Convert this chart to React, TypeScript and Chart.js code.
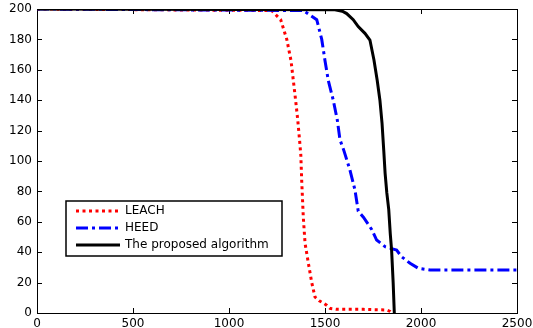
import { useEffect, useRef } from "react";
import { Chart, registerables } from "chart.js";

Chart.register(...registerables);

const xTickValues = [0, 500, 1000, 1500, 2000, 2500];
const yTickValues = [0, 20, 40, 60, 80, 100, 120, 140, 160, 180, 200];
const seriesLabels = ["LEACH", "HEED", "The proposed algorithm"];

const leachX = [0, 1222, 1269, 1301, 1323, 1335, 1347, 1358, 1368, 1374, 1379, 1387, 1396, 1413, 1431, 1448, 1470, 1491, 1510, 1526, 1560, 1700, 1820, 1840, 1850];
const leachY = [200, 199, 193, 180, 166, 153, 140, 127, 113, 104, 86, 63, 46, 33, 20, 10.5, 8, 6.6, 5, 3, 2.4, 2.4, 2, 1, 0];

const heedX = [0, 1387, 1422, 1457, 1483, 1500, 1517, 1543, 1564, 1578, 1598, 1630, 1656, 1673, 1700, 1743, 1769, 1813, 1873, 1899, 1943, 1986, 2047, 2500];
const heedY = [200, 199, 196, 193, 180, 166, 153, 140, 127, 114, 107, 94, 81, 67, 63, 55, 48, 43.6, 41.4, 37, 32.7, 29.4, 28.3, 28.3];

const proposedX = [0, 1552, 1590, 1613, 1647, 1673, 1708, 1734, 1755, 1772, 1786, 1797, 1806, 1813, 1822, 1832, 1840, 1847, 1855, 1861];
const proposedY = [200, 199.5, 198.5, 197, 193, 188.4, 184, 179.6, 166.4, 153, 140, 125, 107, 92, 79, 68, 52, 41, 20, 0];

const FONT = "'DejaVu Sans', sans-serif";

const framePlugin = {
  id: "matlabFrame",
  beforeDatasetsDraw(chart: any) {
    const { ctx, chartArea } = chart;
    const { left, right, top, bottom } = chartArea;
    const xs = chart.scales.x;
    const ys = chart.scales.y;
    ctx.save();
    ctx.strokeStyle = "#000";
    ctx.lineWidth = 1;
    ctx.strokeRect(Math.round(left) + 0.5, Math.round(top) + 0.5, Math.round(right - left), Math.round(bottom - top));
    const tl = 5;
    ctx.beginPath();
    xs.ticks.forEach((t: any) => {
      const px = Math.round(xs.getPixelForValue(t.value)) + 0.5;
      ctx.moveTo(px, bottom);
      ctx.lineTo(px, bottom - tl);
      ctx.moveTo(px, top);
      ctx.lineTo(px, top + tl);
    });
    ys.ticks.forEach((t: any) => {
      const py = Math.round(ys.getPixelForValue(t.value)) + 0.5;
      ctx.moveTo(left, py);
      ctx.lineTo(left + tl, py);
      ctx.moveTo(right, py);
      ctx.lineTo(right - tl, py);
    });
    ctx.stroke();
    ctx.restore();
  },
};

const legendPlugin = {
  id: "matlabLegend",
  afterDatasetsDraw(chart: any) {
    const { ctx, chartArea } = chart;
    const bx = chartArea.left + 29;
    const by = chartArea.top + 192;
    const bw = 216;
    const bh = 55;
    ctx.save();
    ctx.fillStyle = "#fff";
    ctx.fillRect(bx, by, bw, bh);
    ctx.strokeStyle = "#000";
    ctx.lineWidth = 1.5;
    ctx.strokeRect(bx, by, bw, bh);
    ctx.font = `12px ${FONT}`;
    ctx.textBaseline = "middle";
    ctx.textAlign = "left";
    chart.data.datasets.forEach((ds: any, i: number) => {
      const y = by + 10 + i * 17;
      ctx.beginPath();
      ctx.strokeStyle = ds.borderColor;
      ctx.lineWidth = ds.borderWidth;
      ctx.setLineDash(ds.borderDash || []);
      ctx.moveTo(bx + 10, y);
      ctx.lineTo(bx + 54, y);
      ctx.stroke();
      ctx.setLineDash([]);
      ctx.fillStyle = "#000";
      ctx.fillText(ds.label, bx + 59, y);
    });
    ctx.restore();
  },
};

export default function App() {
  const ref = useRef<HTMLCanvasElement>(null);
  useEffect(() => {
    const mk = (xs: number[], ys: number[]) => xs.map((x, i) => ({ x, y: ys[i] }));
    const chart = new Chart(ref.current!, {
      type: "line",
      data: {
        datasets: [
          {
            label: seriesLabels[0],
            data: mk(leachX, leachY),
            borderColor: "#ff0000",
            borderWidth: 3,
            borderDash: [3, 3.5],
            pointRadius: 0,
            fill: false,
            tension: 0,
            order: 2,
          },
          {
            label: seriesLabels[1],
            data: mk(heedX, heedY),
            borderColor: "#0000ff",
            borderWidth: 3,
            borderDash: [12, 4, 3, 4],
            pointRadius: 0,
            fill: false,
            tension: 0,
            order: 1,
          },
          {
            label: seriesLabels[2],
            data: mk(proposedX, proposedY),
            borderColor: "#000000",
            borderWidth: 3,
            pointRadius: 0,
            fill: false,
            tension: 0,
            order: 0,
          },
        ],
      } as any,
      options: {
        responsive: false,
        animation: false,
        devicePixelRatio: 1,
        layout: { padding: { top: 9, right: 16, left: 0, bottom: 0 } },
        plugins: { legend: { display: false }, tooltip: { enabled: false } },
        scales: {
          x: {
            type: "linear",
            min: 0,
            max: 2500,
            afterBuildTicks: (s: any) => {
              s.ticks = xTickValues.map((v) => ({ value: v }));
            },
            ticks: {
              color: "#000",
              font: { family: FONT, size: 12 },
              padding: 4,
              maxRotation: 0,
              autoSkip: false,
              callback: (v: any) => String(v),
            },
            grid: { display: false, drawTicks: false },
            border: { display: false },
            afterFit: (s: any) => {
              s.height = 15;
              s.paddingLeft = 0;
              s.paddingRight = 0;
            },
          },
          y: {
            type: "linear",
            min: 0,
            max: 200,
            afterBuildTicks: (s: any) => {
              s.ticks = yTickValues.map((v) => ({ value: v }));
            },
            ticks: {
              color: "#000",
              font: { family: FONT, size: 12 },
              padding: 5,
              autoSkip: false,
              callback: (v: any) => String(v),
            },
            grid: { display: false, drawTicks: false },
            border: { display: false },
            afterFit: (s: any) => {
              s.width = 37;
              s.paddingTop = 0;
              s.paddingBottom = 0;
            },
          },
        },
      } as any,
      plugins: [framePlugin, legendPlugin],
    });
    return () => chart.destroy();
  }, []);
  return (
    <div style={{ position: "fixed", left: 0, top: 0, width: 533, height: 328, background: "#fff" }}>
      <canvas ref={ref} width={533} height={328} style={{ display: "block" }} />
    </div>
  );
}
